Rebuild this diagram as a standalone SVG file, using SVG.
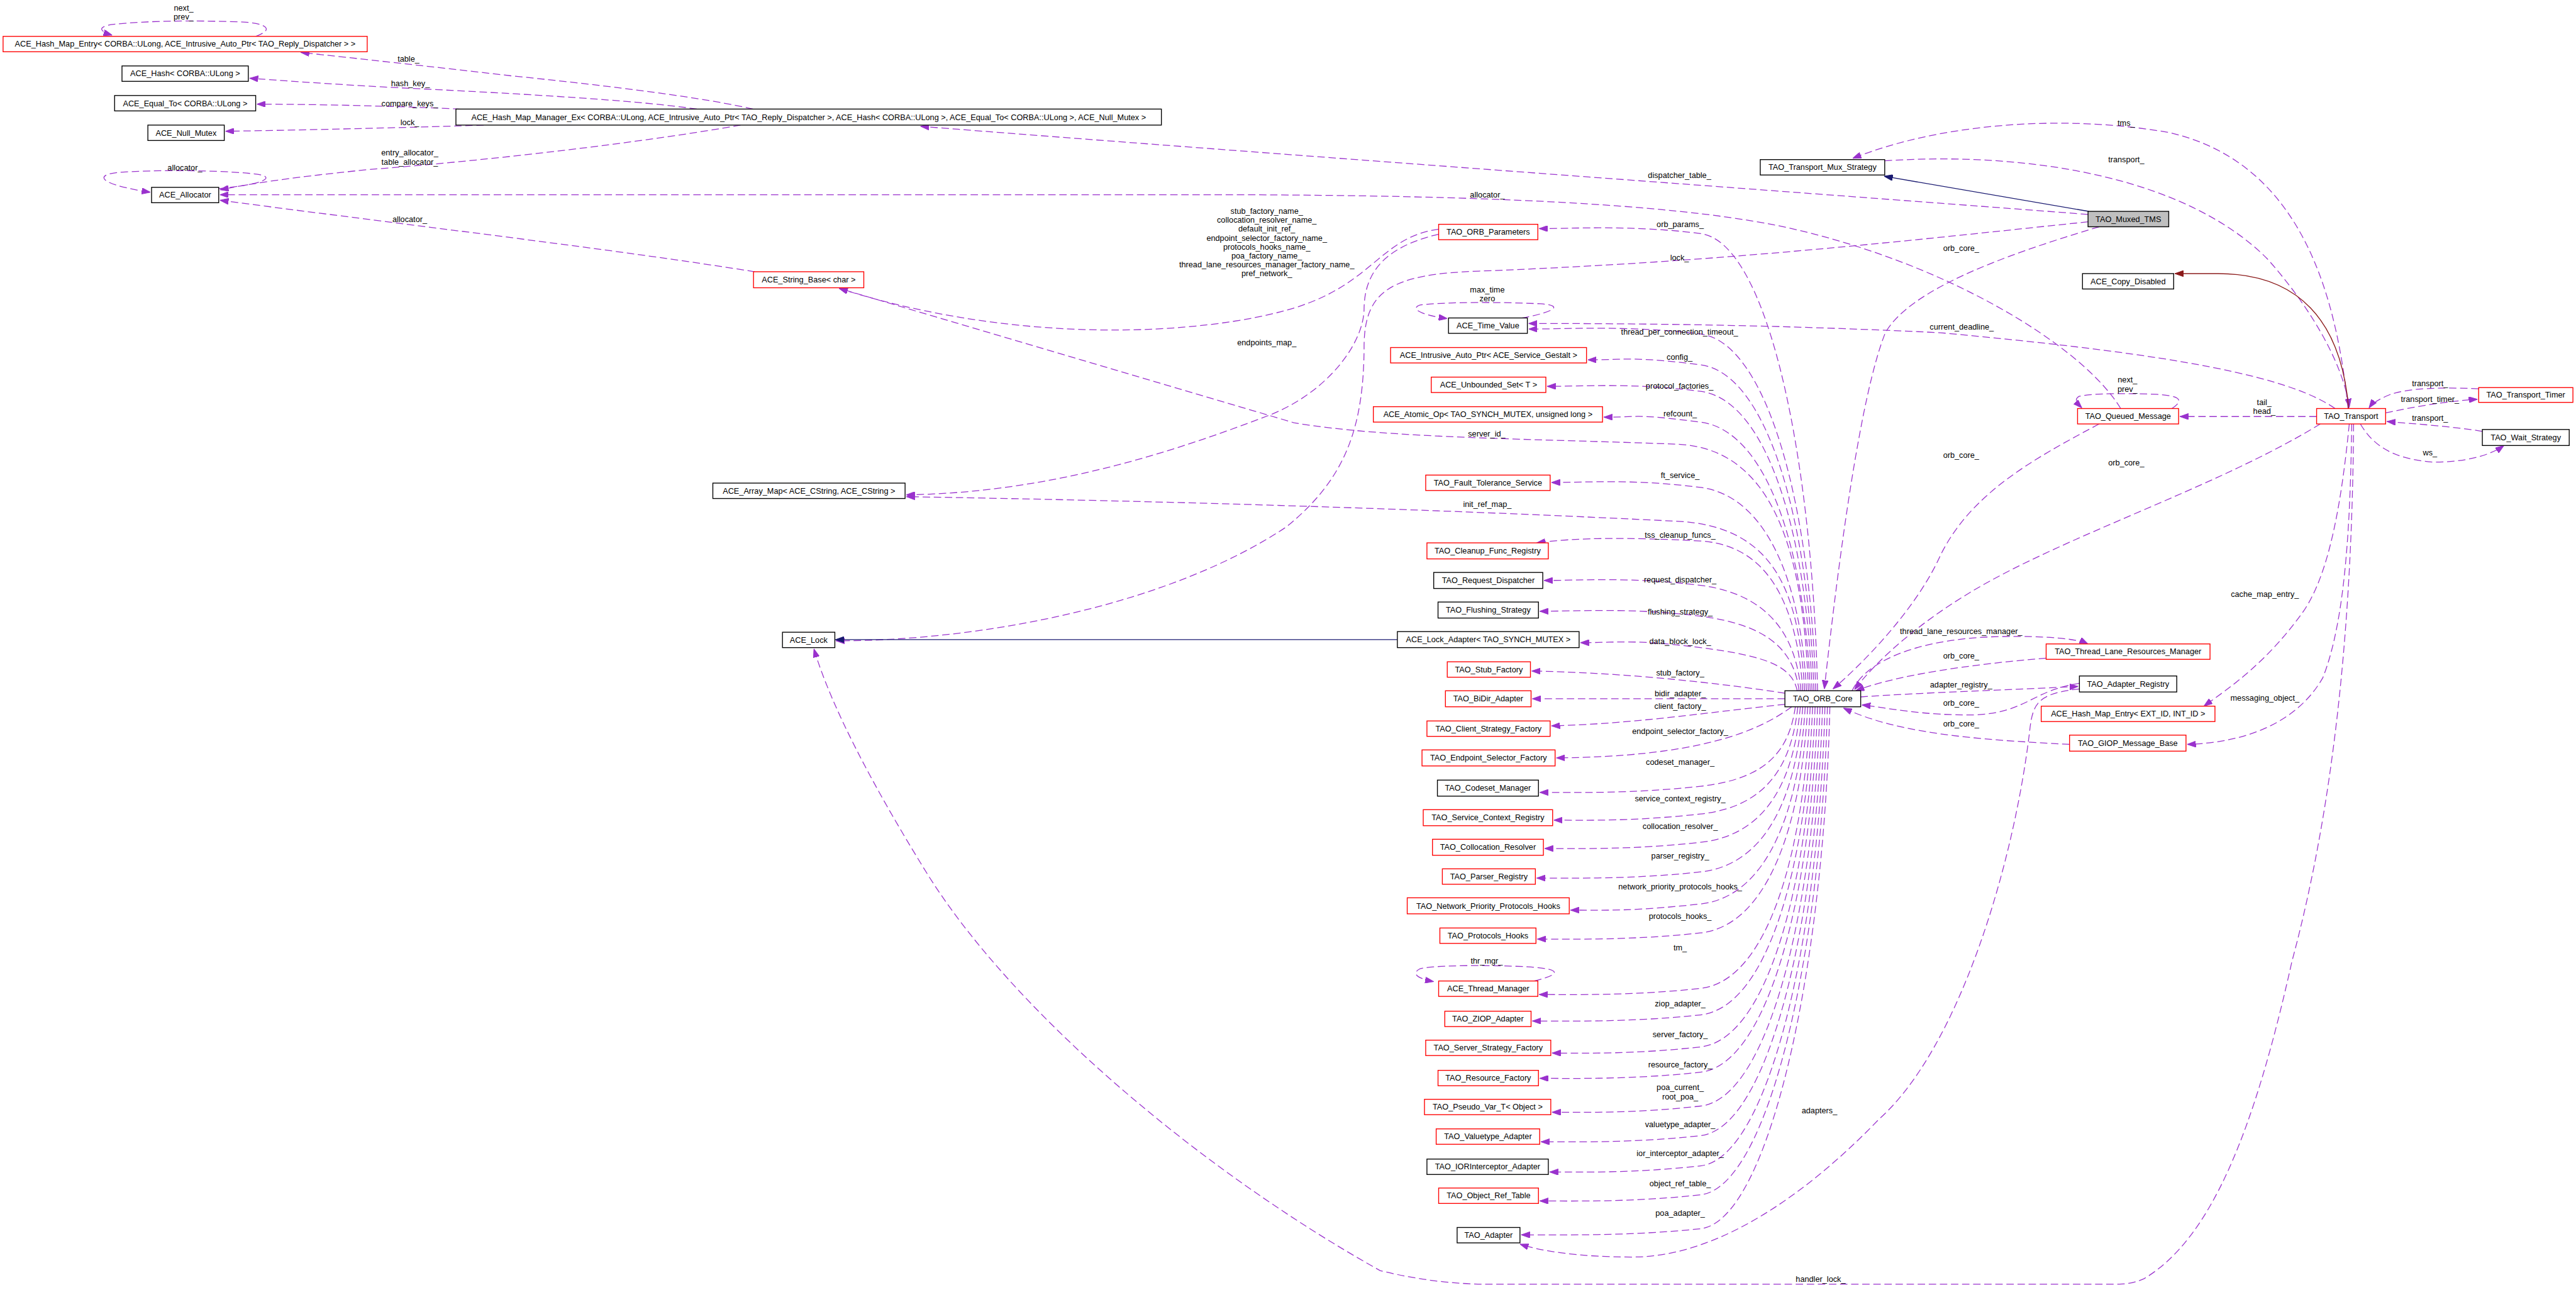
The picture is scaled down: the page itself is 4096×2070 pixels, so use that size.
<svg xmlns="http://www.w3.org/2000/svg" width="4096" height="2070" viewBox="0 0 4096 2070">
<defs>
<marker id="ap" viewBox="0 0 14 10" refX="14" refY="5" markerWidth="14" markerHeight="10" markerUnits="userSpaceOnUse" orient="auto"><path d="M0,0L14,5L0,10z" fill="#9a32cd" stroke="#9a32cd"/></marker>
<marker id="an" viewBox="0 0 14 10" refX="14" refY="5" markerWidth="14" markerHeight="10" markerUnits="userSpaceOnUse" orient="auto"><path d="M0,0L14,5L0,10z" fill="#191970" stroke="#191970"/></marker>
<marker id="ab" viewBox="0 0 14 10" refX="14" refY="5" markerWidth="14" markerHeight="10" markerUnits="userSpaceOnUse" orient="auto"><path d="M0,0L14,5L0,10z" fill="#8b1a1a" stroke="#8b1a1a"/></marker>
<style>
.n rect{fill:#fff;stroke:#000;stroke-width:1.4}
.n.r rect{stroke:#ff0000}
.n.g rect{fill:#bfbfbf}
text{font-family:"Liberation Sans",Arial,sans-serif;font-size:13px;fill:#000}
.n text{text-anchor:middle}
.e{fill:none;stroke:#9a32cd;stroke-width:1.3;stroke-dasharray:12 6;marker-end:url(#ap)}
.inh{fill:none;stroke:#191970;stroke-width:1.4;marker-end:url(#an)}
.priv{fill:none;stroke:#8b1a1a;stroke-width:1.4;marker-end:url(#ab)}
.lb text{text-anchor:middle}
</style>
</defs>
<rect x="0" y="0" width="4096" height="2070" fill="#fff"/>
<g transform="scale(0.97967)">
<g id="connectors">
<!-- upper-left -->
<path class="e" d="M415,59 C440,50 440,40 400,36 C330,33 240,33 180,40 C155,45 165,52 182,57"/>
<path class="e" d="M1222,177 C1150,160 1000,140 829,123 C700,108 580,95 488,85"/>
<path class="e" d="M1131,177 C1050,165 900,155 700,145 C550,138 450,130 405,127"/>
<path class="e" d="M765,178 C650,172 500,169 417,169"/>
<path class="e" d="M785,203 C700,206 500,211 366,213"/>
<path class="e" d="M1202,203 C1050,230 800,260 600,275 C450,290 400,300 357,308"/>
<path class="e" d="M355,306 C420,300 445,290 425,284 C380,276 250,275 190,280 C150,285 165,300 244,312"/>
<path class="e" d="M1225,441 C1000,405 700,370 357,325"/>
<path class="e" d="M3442,663 C3380,560 3150,420 2880,365 C2700,330 2400,317 2000,316 L357,316"/>
<path class="e" d="M3389,348 C3000,318 2000,245 1494,205"/>
<path class="e" d="M3389,360 C3100,390 2800,425 2400,440 C2260,445 2215,470 2214,560 C2214,700 2180,780 2088,855 C1900,980 1600,1040 1357,1040"/>
<path class="e" d="M2335,372 C2240,385 2230,460 2100,500 C1950,545 1650,560 1362,468"/>
<path class="e" d="M2335,380 C2250,400 2215,440 2214,500 C2214,560 2150,640 2057,675 C1900,735 1700,800 1471,803"/>
<path class="e" d="M2935,1121 C2928,880 2870,728 2724,721 C2500,712 2250,712 2100,686 L1362,468"/>
<path class="e" d="M2929,1121 C2920,960 2880,855 2724,846 C2400,830 2000,815 1471,806"/>
<path class="inh" d="M2268,1038 L1356,1038"/>
<path class="e" d="M3820,688 C3818,1000 3790,1300 3720,1560 C3660,1830 3590,2010 3480,2075 Q3460,2084 3440,2084 L2413,2084 Q2330,2084 2240,2062 C1950,1900 1640,1640 1500,1410 C1420,1280 1350,1150 1321,1053"/>
<!-- transport area -->
<path class="inh" d="M3390,343 L3058,286"/>
<path class="e" d="M3811,663 C3790,450 3720,260 3520,215 C3350,185 3150,200 3007,257"/>
<path class="e" d="M3059,261 C3300,245 3550,290 3680,420 C3760,510 3805,600 3813,661"/>
<path class="priv" d="M3812,663 C3800,520 3730,444 3600,444 L3530,444"/>
<path class="e" d="M3790,663 C3700,600 3450,568 3150,540 C2900,528 2700,525 2481,525"/>
<path class="e" d="M3525,663 C3545,650 3540,642 3500,640 C3450,638 3400,638 3375,643 C3365,648 3372,655 3379,662"/>
<path class="e" d="M3760,676 L3538,676"/>
<path class="e" d="M4023,631 C3960,628 3910,630 3880,640 C3860,648 3850,655 3845,662"/>
<path class="e" d="M3872,670 C3920,660 3970,651 4021,648"/>
<path class="e" d="M4029,700 C3980,692 3920,688 3874,684"/>
<path class="e" d="M3831,688 C3850,720 3880,745 3950,750 C4000,750 4040,740 4064,723"/>
<path class="e" d="M3813,688 C3800,820 3780,930 3740,990 C3680,1075 3620,1115 3577,1146"/>
<path class="e" d="M3817,688 C3815,820 3810,1000 3770,1100 C3730,1170 3650,1205 3550,1208"/>
<path class="e" d="M3407,368 C3250,415 3100,470 3060,540 C3020,640 2985,900 2961,1118"/>
<path class="e" d="M3407,688 C3300,745 3200,800 3150,900 C3110,990 3020,1080 2975,1118"/>
<path class="e" d="M3766,688 C3600,790 3350,870 3200,960 C3100,1020 3040,1080 3010,1119"/>
<path class="e" d="M3006,1121 C3030,1070 3120,1035 3250,1033 C3320,1032 3370,1036 3389,1045"/>
<path class="e" d="M3321,1068 C3200,1078 3080,1095 3012,1121"/>
<path class="e" d="M3020,1131 C3120,1124 3250,1120 3373,1114"/>
<path class="e" d="M3375,1109 C3300,1120 3290,1155 3210,1160 C3120,1162 3060,1148 3022,1144"/>
<path class="e" d="M3359,1208 C3200,1200 3080,1190 2992,1149"/>
<path class="e" d="M3375,1118 C3310,1125 3300,1140 3295,1180 C3270,1400 3180,1700 3050,1816 C2950,1920 2800,2040 2650,2040 C2560,2040 2500,2030 2467,2019"/>
<!-- ORB core to upper nodes -->
<path class="e" d="M2950,1121 C2942,746 2870,393 2760,379 S2556,371 2498,371"/>
<path class="e" d="M2947,1121 C2939,828 2870,556 2760,542 S2541,534 2481,534"/>
<path class="e" d="M2470,516 C2530,505 2535,495 2500,493 C2440,490 2340,490 2305,495 C2290,500 2300,510 2349,517"/>
<path class="e" d="M2944,1121 C2936,852 2870,606 2760,592 S2637,584 2577,584"/>
<path class="e" d="M2941,1121 C2933,874 2870,649 2760,635 S2571,627 2511,627"/>
<path class="e" d="M2938,1121 C2930,899 2870,699 2760,685 S2663,677 2603,677"/>
<path class="e" d="M2932,1121 C2924,952 2870,805 2760,791 S2578,783 2518,783"/>
<path class="e" d="M2926,1121 C2918,1000 2880,885 2760,878 C2650,872 2560,872 2494,881"/>
<path class="e" d="M2923,1121 C2915,1031 2870,964 2760,950 S2566,942 2506,942"/>
<path class="e" d="M2920,1121 C2912,1056 2870,1014 2760,1000 S2559,992 2499,992"/>
<path class="e" d="M2917,1121 C2909,1082 2870,1065 2760,1051 S2625,1043 2565,1043"/>
<path class="e" d="M2897,1125 C2800,1110 2650,1092 2486,1089"/>
<path class="e" d="M2897,1134 L2487,1134"/>
<path class="e" d="M2897,1143 C2780,1155 2650,1175 2518,1178"/>
<path class="e" d="M2908,1147 C2850,1190 2750,1228 2526,1230"/>
<!-- ORB core to lower nodes -->
<path class="e" d="M2914,1147 C2904,1216 2870,1264 2760,1276 S2559,1286 2499,1286"/>
<path class="e" d="M2918,1147 C2908,1239 2870,1309 2760,1321 S2582,1331 2522,1331"/>
<path class="e" d="M2922,1147 C2912,1262 2870,1355 2760,1367 S2567,1377 2507,1377"/>
<path class="e" d="M2926,1147 C2916,1286 2870,1403 2760,1415 S2554,1425 2494,1425"/>
<path class="e" d="M2930,1147 C2920,1312 2870,1455 2760,1467 S2609,1477 2549,1477"/>
<path class="e" d="M2934,1147 C2924,1336 2870,1502 2760,1514 S2555,1524 2495,1524"/>
<path class="e" d="M2938,1147 C2928,1381 2870,1592 2760,1604 S2558,1614 2498,1614"/>
<path class="e" d="M2490,1592 C2540,1580 2530,1572 2480,1569 C2420,1566 2330,1566 2305,1572 C2290,1580 2300,1588 2327,1593"/>
<path class="e" d="M2942,1147 C2932,1402 2870,1635 2760,1647 S2547,1657 2487,1657"/>
<path class="e" d="M2946,1147 C2936,1428 2870,1687 2760,1699 S2579,1709 2519,1709"/>
<path class="e" d="M2950,1147 C2940,1449 2870,1728 2760,1740 S2559,1750 2499,1750"/>
<path class="e" d="M2954,1147 C2944,1476 2870,1783 2760,1795 S2579,1805 2519,1805"/>
<path class="e" d="M2958,1147 C2948,1500 2870,1831 2760,1843 S2561,1853 2501,1853"/>
<path class="e" d="M2962,1147 C2952,1525 2870,1880 2760,1892 S2575,1902 2515,1902"/>
<path class="e" d="M2966,1147 C2956,1548 2870,1927 2760,1939 S2559,1949 2499,1949"/>
<path class="e" d="M2970,1147 C2960,1576 2870,1982 2760,1994 S2529,2004 2469,2004"/>
</g>
<g id="edge-labels" class="lb">
<text x="298" y="17">next_</text><text x="298" y="32">prev_</text>
<text x="663" y="100">table_</text>
<text x="666" y="140">hash_key_</text>
<text x="665" y="173">compare_keys_</text>
<text x="665" y="203">lock_</text>
<text x="665" y="252">entry_allocator_</text><text x="665" y="267">table_allocator_</text>
<text x="300" y="277">allocator_</text>
<text x="665" y="360">allocator_</text>
<text x="2726" y="289">dispatcher_table_</text>
<text x="2414" y="321">allocator_</text>
<text x="2056" y="347">stub_factory_name_</text>
<text x="2056" y="361.5">collocation_resolver_name_</text>
<text x="2056" y="376">default_init_ref_</text>
<text x="2056" y="390.5">endpoint_selector_factory_name_</text>
<text x="2056" y="405">protocols_hooks_name_</text>
<text x="2056" y="419.5">poa_factory_name_</text>
<text x="2056" y="434">thread_lane_resources_manager_factory_name_</text>
<text x="2056" y="448.5">pref_network_</text>
<text x="2727" y="368">orb_params_</text>
<text x="2726" y="423">lock_</text>
<text x="2414" y="475">max_time</text><text x="2414" y="489">zero</text>
<text x="2726" y="543">thread_per_connection_timeout_</text>
<text x="3184" y="535">current_deadline_</text>
<text x="2056" y="560">endpoints_map_</text>
<text x="2726" y="584">config_</text>
<text x="2726" y="631">protocol_factories_</text>
<text x="2727" y="676">refcount_</text>
<text x="2413" y="708">server_id_</text>
<text x="2727" y="776">ft_service_</text>
<text x="2414" y="823">init_ref_map_</text>
<text x="2727" y="873">tss_cleanup_funcs_</text>
<text x="2727" y="945">request_dispatcher_</text>
<text x="2727" y="997">flushing_strategy_</text>
<text x="2727" y="1045">data_block_lock_</text>
<text x="2727" y="1096">stub_factory_</text>
<text x="2727" y="1130">bidir_adapter_</text>
<text x="2727" y="1150">client_factory_</text>
<text x="2727" y="1191">endpoint_selector_factory_</text>
<text x="2727" y="1241">codeset_manager_</text>
<text x="2727" y="1300">service_context_registry_</text>
<text x="2727" y="1345">collocation_resolver_</text>
<text x="2727" y="1393">parser_registry_</text>
<text x="2727" y="1443">network_priority_protocols_hooks_</text>
<text x="2727" y="1491">protocols_hooks_</text>
<text x="2727" y="1542">tm_</text>
<text x="2413" y="1564">thr_mgr_</text>
<text x="2727" y="1633">ziop_adapter_</text>
<text x="2727" y="1683">server_factory_</text>
<text x="2727" y="1732">resource_factory_</text>
<text x="2727" y="1769">poa_current_</text><text x="2727" y="1784">root_poa_</text>
<text x="2727" y="1829">valuetype_adapter_</text>
<text x="2727" y="1876">ior_interceptor_adapter_</text>
<text x="2727" y="1925">object_ref_table_</text>
<text x="2727" y="1973">poa_adapter_</text>
<text x="2953" y="1807">adapters_</text>
<text x="2955" y="2080">handler_lock_</text>
<text x="3451" y="204">tms_</text>
<text x="3451" y="263">transport_</text>
<text x="3183" y="407">orb_core_</text>
<text x="3453" y="621">next_</text><text x="3453" y="636">prev_</text>
<text x="3675" y="657">tail_</text><text x="3675" y="672">head_</text>
<text x="3944" y="627">transport_</text>
<text x="3944" y="652">transport_timer_</text>
<text x="3944" y="683">transport_</text>
<text x="3944" y="739">ws_</text>
<text x="3183" y="743">orb_core_</text>
<text x="3451" y="755">orb_core_</text>
<text x="3676" y="969">cache_map_entry_</text>
<text x="3183" y="1029">thread_lane_resources_manager_</text>
<text x="3183" y="1069">orb_core_</text>
<text x="3183" y="1116">adapter_registry_</text>
<text x="3676" y="1137">messaging_object_</text>
<text x="3183" y="1145">orb_core_</text>
<text x="3183" y="1179">orb_core_</text>
</g>
<g id="n_hme1" class="n r"><rect x="5" y="59" width="591" height="25"/><text x="300.5" y="76">ACE_Hash_Map_Entry&lt; CORBA::ULong, ACE_Intrusive_Auto_Ptr&lt; TAO_Reply_Dispatcher &gt; &gt;</text></g>
<g id="n_hash" class="n"><rect x="198" y="107" width="205" height="25"/><text x="300.5" y="124">ACE_Hash&lt; CORBA::ULong &gt;</text></g>
<g id="n_equal" class="n"><rect x="186" y="155" width="229" height="25"/><text x="300.5" y="172">ACE_Equal_To&lt; CORBA::ULong &gt;</text></g>
<g id="n_nullmutex" class="n"><rect x="240" y="203" width="124" height="25"/><text x="302" y="220">ACE_Null_Mutex</text></g>
<g id="n_hmm" class="n"><rect x="740" y="177" width="1145" height="26"/><text x="1312.5" y="194.5">ACE_Hash_Map_Manager_Ex&lt; CORBA::ULong, ACE_Intrusive_Auto_Ptr&lt; TAO_Reply_Dispatcher &gt;, ACE_Hash&lt; CORBA::ULong &gt;, ACE_Equal_To&lt; CORBA::ULong &gt;, ACE_Null_Mutex &gt;</text></g>
<g id="n_allocator" class="n"><rect x="246" y="304" width="109" height="25"/><text x="300.5" y="321">ACE_Allocator</text></g>
<g id="n_stringbase" class="n r"><rect x="1223" y="441" width="179" height="26"/><text x="1312.5" y="458.5">ACE_String_Base&lt; char &gt;</text></g>
<g id="n_arraymap" class="n"><rect x="1157" y="784" width="312" height="25"/><text x="1313" y="801">ACE_Array_Map&lt; ACE_CString, ACE_CString &gt;</text></g>
<g id="n_lock" class="n"><rect x="1270" y="1026" width="85" height="25"/><text x="1312.5" y="1043">ACE_Lock</text></g>
<g id="n_muxstrategy" class="n"><rect x="2857" y="259" width="202" height="25"/><text x="2958" y="276">TAO_Transport_Mux_Strategy</text></g>
<g id="n_muxedtms" class="n g"><rect x="3389" y="343" width="131" height="25"/><text x="3454.5" y="360">TAO_Muxed_TMS</text></g>
<g id="n_copydisabled" class="n"><rect x="3380" y="444" width="148" height="25"/><text x="3454" y="461">ACE_Copy_Disabled</text></g>
<g id="n_orbparams" class="n r"><rect x="2335" y="364" width="161" height="25"/><text x="2415.5" y="381">TAO_ORB_Parameters</text></g>
<g id="n_timevalue" class="n"><rect x="2351" y="516" width="128" height="25"/><text x="2415" y="533">ACE_Time_Value</text></g>
<g id="n_iap" class="n r"><rect x="2257" y="564" width="318" height="25"/><text x="2416" y="581">ACE_Intrusive_Auto_Ptr&lt; ACE_Service_Gestalt &gt;</text></g>
<g id="n_unbset" class="n r"><rect x="2323" y="612" width="186" height="25"/><text x="2416" y="629">ACE_Unbounded_Set&lt; T &gt;</text></g>
<g id="n_atomic" class="n r"><rect x="2229" y="660" width="372" height="25"/><text x="2415" y="677">ACE_Atomic_Op&lt; TAO_SYNCH_MUTEX, unsigned long &gt;</text></g>
<g id="n_ft" class="n r"><rect x="2314" y="771" width="202" height="25"/><text x="2415" y="788">TAO_Fault_Tolerance_Service</text></g>
<g id="n_cleanup" class="n r"><rect x="2316" y="881" width="197" height="26"/><text x="2414.5" y="898.5">TAO_Cleanup_Func_Registry</text></g>
<g id="n_reqdisp" class="n"><rect x="2327" y="929" width="177" height="26"/><text x="2415.5" y="946.5">TAO_Request_Dispatcher</text></g>
<g id="n_flushing" class="n"><rect x="2334" y="977" width="163" height="26"/><text x="2415.5" y="994.5">TAO_Flushing_Strategy</text></g>
<g id="n_lockadapter" class="n"><rect x="2268" y="1025" width="295" height="26"/><text x="2415.5" y="1042.5">ACE_Lock_Adapter&lt; TAO_SYNCH_MUTEX &gt;</text></g>
<g id="n_stub" class="n r"><rect x="2349" y="1074" width="135" height="25"/><text x="2416.5" y="1091">TAO_Stub_Factory</text></g>
<g id="n_bidir" class="n r"><rect x="2346" y="1121" width="139" height="26"/><text x="2415.5" y="1138.5">TAO_BiDir_Adapter</text></g>
<g id="n_client" class="n r"><rect x="2316" y="1170" width="200" height="25"/><text x="2416" y="1187">TAO_Client_Strategy_Factory</text></g>
<g id="n_endpoint" class="n r"><rect x="2308" y="1217" width="216" height="26"/><text x="2416" y="1234.5">TAO_Endpoint_Selector_Factory</text></g>
<g id="n_codeset" class="n"><rect x="2333" y="1266" width="164" height="26"/><text x="2415" y="1283.5">TAO_Codeset_Manager</text></g>
<g id="n_svcctx" class="n r"><rect x="2310" y="1314" width="210" height="26"/><text x="2415" y="1331.5">TAO_Service_Context_Registry</text></g>
<g id="n_colloc" class="n r"><rect x="2325" y="1362" width="180" height="26"/><text x="2415" y="1379.5">TAO_Collocation_Resolver</text></g>
<g id="n_parser" class="n r"><rect x="2341" y="1410" width="151" height="25"/><text x="2416.5" y="1427">TAO_Parser_Registry</text></g>
<g id="n_netprio" class="n r"><rect x="2284" y="1457" width="263" height="26"/><text x="2415.5" y="1474.5">TAO_Network_Priority_Protocols_Hooks</text></g>
<g id="n_prothooks" class="n r"><rect x="2337" y="1506" width="156" height="25"/><text x="2415" y="1523">TAO_Protocols_Hooks</text></g>
<g id="n_thrmgr" class="n r"><rect x="2335" y="1592" width="161" height="25"/><text x="2415.5" y="1609">ACE_Thread_Manager</text></g>
<g id="n_ziop" class="n r"><rect x="2345" y="1641" width="140" height="25"/><text x="2415" y="1658">TAO_ZIOP_Adapter</text></g>
<g id="n_serverfac" class="n r"><rect x="2314" y="1688" width="203" height="25"/><text x="2415.5" y="1705">TAO_Server_Strategy_Factory</text></g>
<g id="n_resfac" class="n r"><rect x="2334" y="1737" width="163" height="25"/><text x="2415.5" y="1754">TAO_Resource_Factory</text></g>
<g id="n_pseudo" class="n r"><rect x="2312" y="1784" width="205" height="25"/><text x="2414.5" y="1801">TAO_Pseudo_Var_T&lt; Object &gt;</text></g>
<g id="n_valuetype" class="n r"><rect x="2331" y="1832" width="168" height="25"/><text x="2415" y="1849">TAO_Valuetype_Adapter</text></g>
<g id="n_iorint" class="n"><rect x="2316" y="1881" width="197" height="25"/><text x="2414.5" y="1898">TAO_IORInterceptor_Adapter</text></g>
<g id="n_objref" class="n r"><rect x="2335" y="1928" width="162" height="25"/><text x="2416" y="1945">TAO_Object_Ref_Table</text></g>
<g id="n_adapter" class="n"><rect x="2365" y="1992" width="102" height="25"/><text x="2416" y="2009">TAO_Adapter</text></g>
<g id="n_orbcore" class="n"><rect x="2897" y="1121" width="123" height="26"/><text x="2958.5" y="1138.5">TAO_ORB_Core</text></g>
<g id="n_tlrm" class="n r"><rect x="3321" y="1045" width="266" height="25"/><text x="3454" y="1062">TAO_Thread_Lane_Resources_Manager</text></g>
<g id="n_adreg" class="n"><rect x="3375" y="1097" width="158" height="26"/><text x="3454" y="1114.5">TAO_Adapter_Registry</text></g>
<g id="n_hme2" class="n r"><rect x="3313" y="1146" width="282" height="25"/><text x="3454" y="1163">ACE_Hash_Map_Entry&lt; EXT_ID, INT_ID &gt;</text></g>
<g id="n_giop" class="n r"><rect x="3359" y="1193" width="189" height="26"/><text x="3453.5" y="1210.5">TAO_GIOP_Message_Base</text></g>
<g id="n_queued" class="n r"><rect x="3372" y="663" width="164" height="25"/><text x="3454" y="680">TAO_Queued_Message</text></g>
<g id="n_transport" class="n r"><rect x="3760" y="663" width="112" height="25"/><text x="3816" y="680">TAO_Transport</text></g>
<g id="n_timer" class="n r"><rect x="4023" y="629" width="153" height="24"/><text x="4099.5" y="645.5">TAO_Transport_Timer</text></g>
<g id="n_wait" class="n"><rect x="4029" y="697" width="141" height="26"/><text x="4099.5" y="714.5">TAO_Wait_Strategy</text></g>
</g>
</svg>
